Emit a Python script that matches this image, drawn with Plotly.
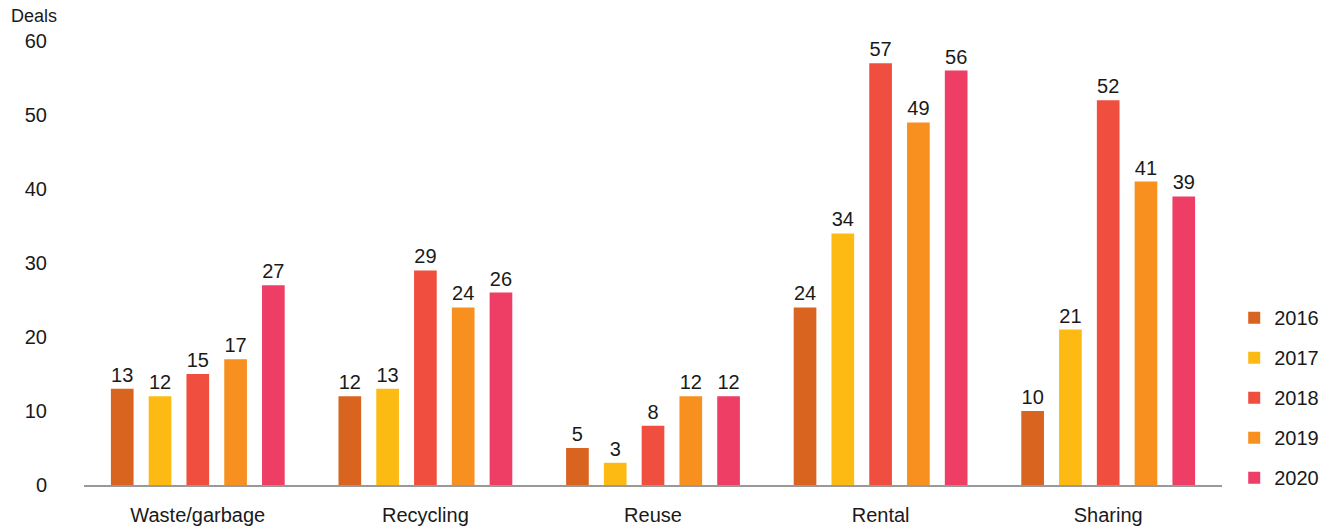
import plotly.graph_objects as go

categories = ["Waste/garbage", "Recycling", "Reuse", "Rental", "Sharing"]
years = ["2016", "2017", "2018", "2019", "2020"]
deals_2016 = [13, 12, 5, 24, 10]
deals_2017 = [12, 13, 3, 34, 21]
deals_2018 = [15, 29, 8, 57, 52]
deals_2019 = [17, 24, 12, 49, 41]
deals_2020 = [27, 26, 12, 56, 39]
colors = ["#D8641F", "#FDBA12", "#F04E3E", "#F7901E", "#EE3E65"]

series = [deals_2016, deals_2017, deals_2018, deals_2019, deals_2020]
font_family = "Liberation Sans, Arial, sans-serif"

fig = go.Figure()
for year, values, color in zip(years, series, colors):
    fig.add_trace(go.Bar(
        x=categories, y=values, name=year, legendgroup=year,
        marker=dict(color=color, line=dict(width=0)),
        text=[str(v) for v in values], textposition="outside",
        textfont=dict(size=20, color="#1a1a1a", family=font_family),
        cliponaxis=False,
    ))

fig.update_layout(
    width=1335, height=530,
    margin=dict(l=84, r=113, t=41, b=45, autoexpand=False),
    plot_bgcolor="white", paper_bgcolor="white",
    barmode="group", bargap=0.17, bargroupgap=0.40,
    font=dict(family=font_family, size=20, color="#1a1a1a"),
    showlegend=True,
    legend=dict(
        xref="container", yref="container",
        x=0.9245, xanchor="left", y=0.062, yanchor="bottom",
        font=dict(size=20), tracegroupgap=11, itemwidth=30,
    ),
    xaxis=dict(
        showline=True, linecolor="#999999", linewidth=1.5,
        ticks="", showgrid=False, tickfont=dict(size=20),
        ticklabelstandoff=11, automargin=False,
    ),
    yaxis=dict(
        range=[0, 60], tickvals=[0, 10, 20, 30, 40, 50, 60],
        showgrid=False, zeroline=False, showline=False,
        ticks="", tickfont=dict(size=20), ticklabelstandoff=36,
        automargin=False,
    ),
    annotations=[dict(
        text="Deals", xref="paper", yref="paper", x=-0.066, y=1.03,
        xanchor="left", yanchor="bottom", showarrow=False,
        font=dict(size=18, color="#1a1a1a"),
    )],
)

fig.write_html("out.html")
